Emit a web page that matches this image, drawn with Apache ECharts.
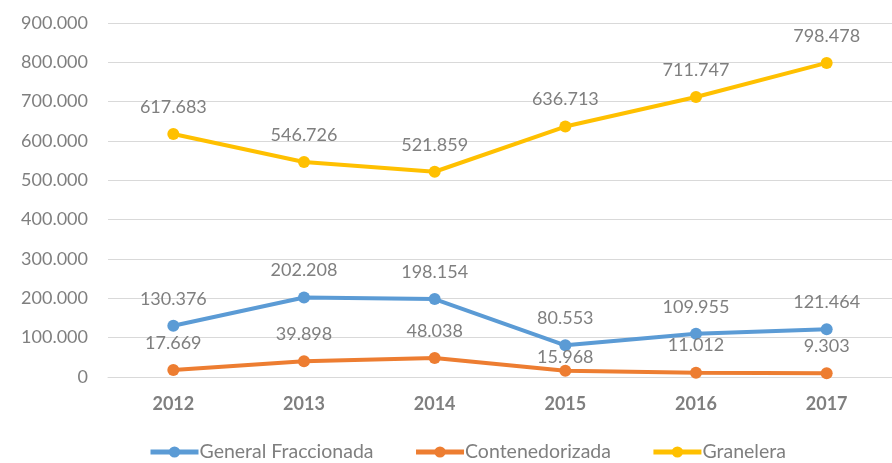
<!DOCTYPE html>
<html>
<head>
<meta charset="utf-8">
<script src="https://cdn.jsdelivr.net/npm/echarts@6/dist/echarts.min.js"></script>
<style>
  html, body { margin: 0; padding: 0; background: #fff; }
  #main { width: 892px; height: 463px; }
</style>
</head>
<body>
<div id="main"></div>
<script>
let years = ['2012', '2013', '2014', '2015', '2016', '2017'];
let generalFraccionada = [130376, 202208, 198154, 80553, 109955, 121464];
let contenedorizada = [17669, 39898, 48038, 15968, 11012, 9303];
let granelera = [617683, 546726, 521859, 636713, 711747, 798478];
let seriesNames = ['General Fraccionada', 'Contenedorizada', 'Granelera'];
let colors = ['#5B9BD5', '#ED7D31', '#FFC000'];

// separador de miles con punto
function fmt(v) {
    return String(v).replace(/\B(?=(\d{3})+(?!\d))/g, '.');
}

function lineSeries(name, data, color, z) {
    return {
        name: name,
        type: 'line',
        data: data,
        z: z,
        symbol: 'circle',
        symbolSize: 12,
        lineStyle: { width: 4, color: color },
        itemStyle: { color: color },
        label: {
            show: true,
            position: 'top',
            distance: 12,
            color: '#7f7f7f',
            fontSize: 18,
            fontFamily: 'Lato',
            formatter: function (p) { return fmt(p.value); }
        }
    };
}

let myChart = echarts.init(document.getElementById('main'));

let conte = lineSeries(seriesNames[1], contenedorizada, colors[1], 3);
// etiqueta de 2015 más cerca del punto, como en el original
conte.labelLayout = function (p) {
    return p.dataIndex === 3 ? { dy: 13 } : {};
};

let option = {
    animation: false,
    color: colors,
    grid: { left: 108, width: 796, top: 23, bottom: 86 },
    legend: {
        data: seriesNames,
        left: 148,
        top: 442,
        padding: 0,
        itemWidth: 48,
        itemHeight: 14,
        itemGap: 40,
        lineStyle: { width: 5 },
        textStyle: { color: '#7f7f7f', fontSize: 19.5, fontFamily: 'Lato', padding: [0, 0, 0, -4] }
    },
    xAxis: {
        type: 'category',
        data: years,
        boundaryGap: true,
        axisLine: { lineStyle: { color: '#d9d9d9' } },
        axisTick: { show: false },
        axisLabel: { color: '#7f7f7f', fontSize: 18, fontWeight: 'bold', fontFamily: 'Lato', margin: 18 }
    },
    yAxis: {
        type: 'value',
        min: 0,
        max: 900000,
        interval: 100000,
        axisLine: { show: false },
        axisTick: { show: false },
        splitLine: { lineStyle: { color: '#d9d9d9', width: 1 } },
        axisLabel: {
            color: '#7f7f7f', fontSize: 18, fontFamily: 'Lato', margin: 20,
            formatter: function (v) { return fmt(v); }
        }
    },
    series: [
        lineSeries(seriesNames[0], generalFraccionada, colors[0], 2),
        conte,
        lineSeries(seriesNames[2], granelera, colors[2], 2)
    ]
};
myChart.setOption(option);
</script>
</body>
</html>
